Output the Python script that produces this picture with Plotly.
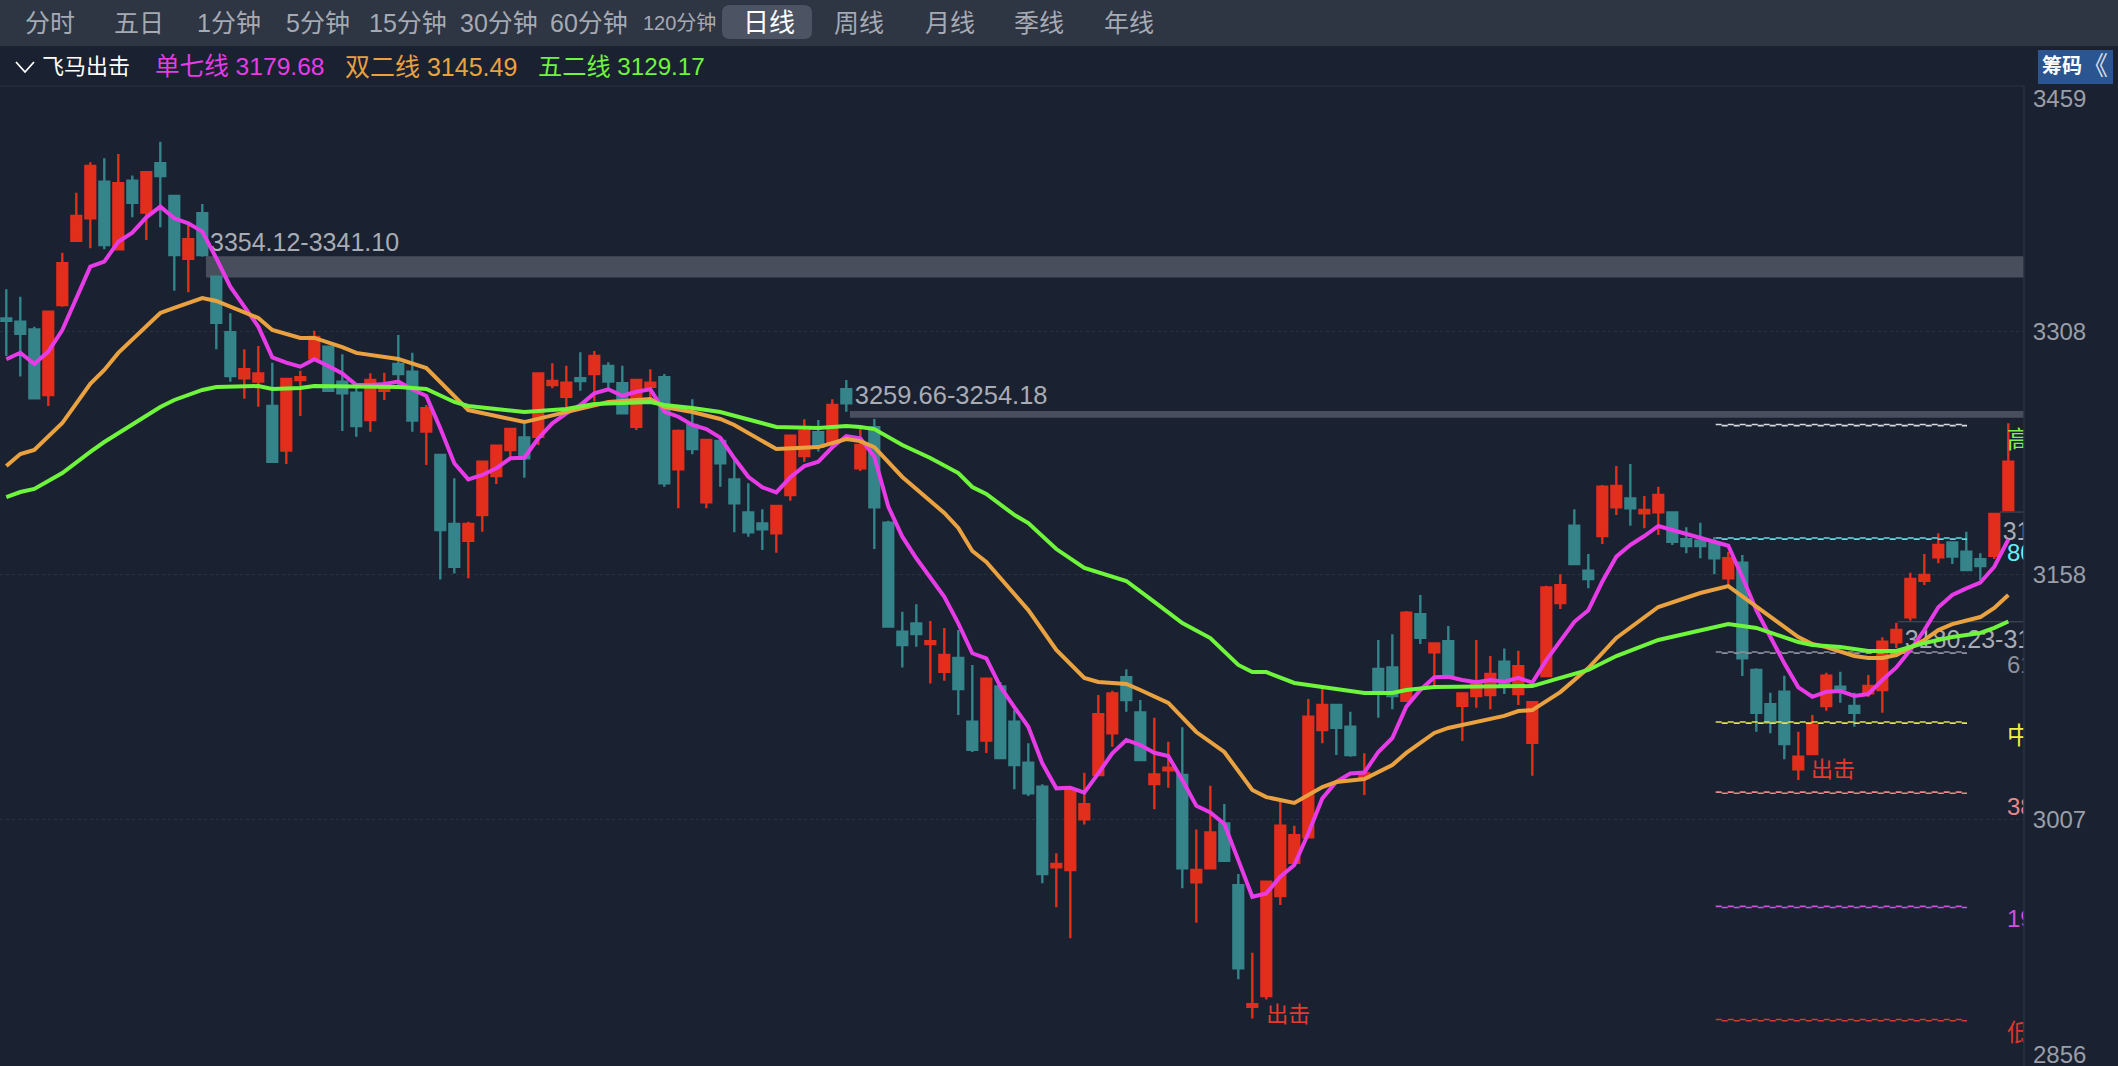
import plotly.graph_objects as go

# ---- data (index prices) ----
DIRECTION = ("TTTRRRRTRT" "RTTRTTTRRT" "RRRTTTRRTT" "RTTRRRRTRR" "RTRTTRRTRT" "RTTTTRRRTR" "TRTTTTRRTT"
             "RTTTTRRRRR" "TTRRTRRTTR" "RRRRRTTRTT" "RTRTRRRTRR" "RRTTRRTRRT" "TTTRTTTTRR" "RTTRRRRRRT" "TTRR")

HIGH = [3333.8,3329.2,3310.7,3320.4,3356.3,3393.3,3412,3414.5,3417.1,3403.8,3405.9,3424.7,3391.3,3375.4,3386.3,3342,3319,3296.8,3298.9,
3288.6,3278.5,3283.6,3308.3,3298.4,3293.8,3273,3282,3282.4,3305.6,3294.7,3262.5,3231.7,3217.4,3190.6,3228.2,3237.9,3248.5,3250.8,3282.2,3288.2,3286.7,3295,3295.8,3288.8,3286.7,3278.3,3284.5,
3281.6,3247.5,3266,3241,3242.2,3230.3,3214.3,3198.3,3200.3,3244,3253.7,3253.3,3266,3277.9,3250.2,3253.9,3191.2,3135.2,3139.8,3129.5,3125.2,3123.9,3102.4,3094.4,3091.9,3074.6,3054.1,3028.9,2986.4,3026.6,3036,3083.9,3086.5,3099.7,3080.8,3069.9,3055.1,3064,3001.1,3028,3016.7,2973.6,2925.1,2968.9,3018.2,3003.4,3081.4,3088,3077.7,3073.6,3048,
3117.8,3121.3,3135.6,3145.5,3115.7,3126.4,3084.9,3117.8,3107.9,3112.6,3111.2,3079.8,3151.2,3158.2,3198.3,3170.7,3213.2,3224.9,3226.2,3206.5,3212.2,3196.4,3187.2,3190,3181.2,3172.2,3170.1,3100.3,3085.3,3095.8,3061.3,3071.6,3097.6,3098.2,3085.3,3096.2,3119.4,3128.4,3159.2,3170.7,3183.5,3177.9,3184.5,3171.2,3195.4,3251.2]

BODY_TOP = [3315.9,3313.8,3309.1,3320,3349.8,3378.9,3409.7,3400.1,3399.1,3400.7,3405.9,3411.4,3391.3,3364.6,3380.6,3341.5,3307.3,3284.5,3282,
3261.9,3278.5,3279.6,3304.4,3298.4,3276.9,3270.1,3277.9,3273.6,3287.8,3283,3260.5,3231.7,3189.2,3189.2,3227.6,3237.4,3247.7,3242.6,3282,3277.3,3276.3,3279,3292.7,3286.5,3275.9,3277.9,3276.3,
3279.6,3246.5,3250.2,3241,3240.3,3216.7,3196.4,3189.6,3200.3,3243.6,3246.5,3245.7,3262.5,3272.2,3237.9,3248.8,3190,3122.9,3128,3117.1,3108.5,3106.7,3067.4,3094,3089.1,3067.4,3042.2,3027.4,2979.8,3025.4,3016.6,3072,3084.9,3094.8,3073.2,3035,3039.1,3034.6,2976.1,2999.3,3004.8,2966.8,2893.4,2968.9,3003.4,2997.6,3070.5,3077.7,3077.7,3064.4,3035.8,
3099.9,3100.9,3134.6,3133.6,3115.7,3117.1,3084.9,3091.3,3096.8,3104.4,3101.7,3079.4,3150.2,3151.6,3188.2,3160.4,3212.2,3212.6,3205,3197.8,3207.1,3196.4,3179.8,3178.9,3177.3,3168.1,3165.4,3099.3,3078.3,3085.9,3045.9,3065.4,3095.8,3089,3077.1,3089.4,3116.7,3123.9,3155.3,3157.8,3176.3,3177.9,3172.2,3167.5,3195.4,3227.6]

BODY_BOTTOM = [3314.4,3306.3,3266.6,3268.7,3324.1,3363.7,3377.5,3361.1,3358.4,3387.1,3381,3403.6,3354.9,3352.5,3354.9,3313.2,3280.4,3279,3276.9,
3227.6,3234.4,3277.9,3291.3,3271.3,3269.7,3249.6,3253.3,3271.3,3281.6,3252.9,3246.1,3185.5,3162.9,3178.9,3194.8,3218.8,3234.8,3229.7,3243,3274.8,3267.6,3277.3,3281.6,3276.9,3257.4,3249.1,3273.8,
3214.3,3222.9,3235.4,3202.6,3226.6,3202,3184.1,3186,3183.5,3207.1,3231.1,3236.8,3239.9,3263.6,3223.5,3199.5,3126,3114.7,3121.5,3115.3,3098.2,3087.6,3050.2,3055.8,3045.1,3040.8,3023.3,2973.6,2977.7,2976.1,3007.3,3034.6,3060.3,3080.8,3043.8,3029.1,3037.5,2977.1,2968.5,2977.1,2981.8,2915.5,2891.9,2898.5,2960.1,2980.6,2996.2,3062.3,3063.7,3046.9,3032.8,
3086.5,3083.3,3080.4,3119.2,3110.2,3096.2,3077.3,3083.3,3083.9,3090,3084.5,3054.5,3095.6,3140.6,3164.6,3155.3,3181.8,3199.5,3198.9,3195.8,3196.4,3178.3,3175.7,3175.7,3168.1,3155.8,3106.5,3073,3066.8,3053.7,3038.1,3047.5,3077.1,3087.4,3073,3084.9,3087,3116.3,3131.7,3154.3,3168.7,3169.1,3160.9,3163.3,3169.7,3197.8]

LOW = [3292.7,3280,3266.6,3261.9,3323.1,3363.7,3359,3358.4,3358.4,3378.1,3364.2,3372,3332.9,3331.9,3353.9,3296.8,3276.9,3266.4,3261.5,
3227.6,3226.2,3255.7,3290.2,3271.3,3246.5,3243,3246.1,3265.6,3274.8,3246.1,3225.6,3155.1,3158.8,3155.8,3184.5,3213.9,3228.6,3217.7,3237.9,3272.8,3259.4,3271.3,3264.6,3273,3257.4,3247.1,3263.6,
3212.2,3198.9,3232.2,3198.9,3212.2,3184.1,3181.4,3173.2,3171.5,3203.6,3227.6,3233.8,3239.9,3258.4,3221.9,3173.8,3126,3100.9,3113.6,3091,3092.7,3071.6,3048.8,3048.2,3044.6,3025.8,3021.7,2967.9,2953.1,2934,3004.2,3034.6,3052,3073.6,3043.4,3013.5,3026.8,2964.8,2943.6,2977.1,2981.2,2908.8,2884.7,2896.4,2954.5,2980.6,2996.2,3054.1,3046.9,3045.9,3022.3,
3069.9,3075.1,3080.4,3115.3,3087.4,3096.2,3055.5,3076,3075.1,3084.5,3077.7,3034.2,3095.6,3136.9,3164.6,3149.6,3176.9,3194.8,3188.2,3186.6,3182.4,3176.3,3171.2,3168.1,3158.2,3151.6,3095.6,3061.3,3060.3,3044.3,3031.5,3047.5,3074.2,3079.1,3064.4,3082.8,3073,3112.8,3129.6,3151.6,3165,3164.6,3160.9,3154.7,3167.7,3197.2]

# 单七线: one value per session
MA7 = [3290.7,3294.7,3287.8,3295.4,3308.7,3328.2,3347.7,3350.8,3363.1,3368.7,3378.1,3384.7,3377.5,3374.4,3369.3,3352.9,3335.4,3323.1,3310.8,
3291.9,3288.6,3286.1,3290.7,3286.5,3282,3274.8,3274.8,3275.5,3276.9,3272.2,3268.1,3248.2,3226.6,3216.7,3219.4,3223.5,3229.7,3230,3242,3251.2,3257.4,3262.5,3269.7,3272.2,3268.2,3270.7,3272.2,
3258.4,3255.3,3250.2,3247.7,3242.4,3229.7,3218.3,3211.8,3208.7,3218,3224.9,3227.6,3236.5,3243.4,3242,3230.7,3199.9,3181.4,3168.1,3155.8,3144.4,3128,3109.6,3106.5,3089.1,3076.5,3064.3,3041.8,3026.4,3026.8,3023.7,3035.6,3048,3056.2,3053.1,3048.3,3046.3,3031.5,3015.7,3011.6,3004.4,2982.2,2959.6,2961.7,2972,2979.2,2998.7,3020.2,3030.5,3035.6,3036.1,
3048.8,3057.4,3076.7,3087,3094.8,3095.1,3093.1,3091.7,3093.1,3092.1,3094.5,3091.5,3105.4,3116.7,3129,3136.1,3153.8,3169.1,3176.3,3181.8,3188,3185.5,3183,3181,3178.6,3175.8,3156.6,3136.2,3119.8,3103.4,3088.6,3082.8,3085.9,3086.3,3083.3,3084.5,3093.1,3100.9,3111.6,3123.9,3137.9,3145.5,3149.6,3153.1,3162.9,3179.68]

# 双二线 / 五二线: readings at the visible kinks of each line
MA22_IDX = [0,1,2,3,4,6,7,8,11,12,14,15,18,19,21,22,24,25,28,30,33,37,40,42,43,46,47,49,51,52,55,58,60,61,62,64,67,68,69,70,73,75,77,78,80,81,83,85,87,89,90,92,94,95,97,99,100,102,103,107,108,109,111,113,115,118,120,121,123,125,127,128,129,130,132,133,134,135,137,138,139,141,142,143]
MA22 = [3224.9,3232.3,3234.8,3242.8,3251.4,3275.5,3284.1,3294.6,3319.2,3322.3,3328.4,3326.6,3316.1,3308.7,3303.8,3303.8,3298.2,3294.6,3290.9,3285.3,3259.4,3252,3258.2,3262.5,3264.4,3266.2,3261.3,3258.2,3253.9,3250.2,3235.4,3236.6,3241.6,3240.3,3236.6,3218.2,3196,3186.8,3172.6,3165.8,3136.2,3111.6,3094.4,3091.9,3090.7,3087,3079,3061.1,3048.8,3025.4,3021,3017.4,3027.2,3030.3,3032.1,3040.8,3048.2,3060.5,3063.6,3071,3074,3074.6,3085.7,3100.5,3119,3138.1,3144.2,3146.7,3151,3138.1,3125.8,3119.6,3115.3,3113.4,3107.9,3106.7,3106.7,3108.5,3117.8,3123.9,3127.6,3131.9,3137.5,3145.49]

MA52_IDX = [0,1,2,3,4,6,7,11,12,14,15,18,19,21,22,28,30,32,33,37,40,42,46,47,49,51,55,58,60,61,62,64,66,68,69,70,72,73,75,77,80,82,84,86,88,89,90,92,94,97,99,100,102,109,111,113,115,118,123,125,128,129,131,133,135,137,139,141,142,143]
MA52 = [3205.8,3208.9,3210.8,3215.7,3220.6,3233.6,3239.7,3261.3,3265.6,3271.8,3273.6,3274.2,3272.4,3273,3274.2,3273.6,3272.4,3264.4,3261.9,3258.2,3260.1,3263.1,3264.4,3262.5,3260.7,3258.2,3249,3248.4,3249.6,3249,3247.7,3237.9,3229.9,3220.6,3212,3207.7,3194.8,3189.8,3173.8,3162.1,3154.1,3141.2,3128.2,3119,3102.4,3098,3098,3091.3,3088.8,3085.1,3085.1,3087,3088.8,3089.4,3094.4,3099.3,3107.9,3117.8,3127.6,3125.2,3116.5,3114.7,3113.4,3111,3111,3115.9,3119.6,3122.1,3125.2,3129.17]

FIB_LEVELS = [3250.5,3180.6,3110.4,3067.3,3024.1,2953.7,2884.0]
FIB_COLORS = ["#d8dade","#5fdde8","#8d909a","#e3e24a","#e58a8a","#d24fe0","#d63a35"]
FIB_TEXT = ["高点","80.9%","61.8%","中点","38.2%","19.1%","低点"]
FIB_TEXT_Y = [3239.5,3170,3100.9,3057.7,3013.7,2944.4,2874.2]
FIB_TEXT_COLORS = ["#7df04a","#66f0f5","#8d909a","#f2f23c","#e58a8a","#d24fe0","#e0352c"]

TOOLBAR = [("分时",49.5,25),("五日",139,25),("1分钟",229,25),("5分钟",318,25),("15分钟",408,25),("30分钟",499,25),("60分钟",589,25),("120分钟",679,20),("周线",859,25),("月线",950,25),("季线",1039,25),("年线",1129,25)]

BG, BAR_BG = "#1a2130", "#2e3543"
RED, TEAL = "#e12f1c", "#35848a"
FONT = "Liberation Sans, Noto Sans CJK SC, sans-serif"
W, H, PL_R, PL_T, PL_B = 2118, 1066, 2024, 86, 1065
XMIN, XMAX = -0.45, 144.12

def fx(p): return p / PL_R
def fy(p): return (PL_B - p) / (PL_B - PL_T)

N = len(HIGH)
X = list(range(N))
OPEN = [BODY_BOTTOM[i] if DIRECTION[i] == "R" else BODY_TOP[i] for i in X]
CLOSE = [BODY_TOP[i] if DIRECTION[i] == "R" else BODY_BOTTOM[i] for i in X]

fig = go.Figure()
fig.add_trace(go.Candlestick(x=X, open=OPEN, high=HIGH, low=LOW, close=CLOSE, whiskerwidth=0,
    increasing=dict(line=dict(color=RED, width=2.4), fillcolor=RED),
    decreasing=dict(line=dict(color=TEAL, width=2.4), fillcolor=TEAL), showlegend=False))

for lev, col in zip(FIB_LEVELS, FIB_COLORS):
    fig.add_trace(go.Scatter(x=[122.1, 140.05], y=[lev, lev], mode="lines",
        line=dict(color=col, width=1.6, dash="6px,6px"), showlegend=False, hoverinfo="skip"))
    fig.add_trace(go.Scatter(x=[122.1, 140.05], y=[lev - 0.7, lev - 0.7], mode="lines",
        line=dict(color=col, width=1.6, dash="0px,6px,6px,0px"), showlegend=False, hoverinfo="skip"))

def label(x, y, text, color, size):
    fig.add_trace(go.Scatter(x=[x], y=[y], mode="text", text=[text], textposition="middle right",
        textfont=dict(family=FONT, size=size, color=color), cliponaxis=True, showlegend=False, hoverinfo="skip"))

GREY = "#a8acb5"
label(14.55, 3361.1, "3354.12-3341.10", GREY, 25)
label(60.6, 3267, "3259.66-3254.18", GREY, 25.5)
label(135.6, 3116.6, "3180.23-3178.11", GREY, 25)
label(142.6, 3183.3, "3196.60", GREY, 25)
label(90.0, 2886, "出击", "#e63a30", 22)
label(128.9, 3037, "出击", "#e63a30", 22)
for t, yy, c in zip(FIB_TEXT, FIB_TEXT_Y, FIB_TEXT_COLORS):
    label(142.9, yy, t, c, 24)

fig.add_trace(go.Scatter(x=X, y=MA7, mode="lines", line=dict(color="#e83be8", width=4), name="单七线", showlegend=False, hoverinfo="skip"))
fig.add_trace(go.Scatter(x=MA22_IDX, y=MA22, mode="lines", line=dict(color="#e9a23f", width=4), name="双二线", showlegend=False, hoverinfo="skip"))
fig.add_trace(go.Scatter(x=MA52_IDX, y=MA52, mode="lines", line=dict(color="#6ef53c", width=4), name="五二线", showlegend=False, hoverinfo="skip"))

shapes = [
    dict(type="rect", xref="paper", yref="paper", x0=0, x1=fx(W), y0=fy(0), y1=fy(46), fillcolor=BAR_BG, line_width=0, layer="below"),
    dict(type="path", xref="paper", yref="paper", layer="below", fillcolor="#4c5362", line_width=0,
         path=f"M{fx(730)},{fy(5)} L{fx(804)},{fy(5)} Q{fx(812)},{fy(5)} {fx(812)},{fy(13)} L{fx(812)},{fy(31)} Q{fx(812)},{fy(39)} {fx(804)},{fy(39)} L{fx(730)},{fy(39)} Q{fx(722)},{fy(39)} {fx(722)},{fy(31)} L{fx(722)},{fy(13)} Q{fx(722)},{fy(5)} {fx(730)},{fy(5)} Z"),
    dict(type="line", xref="paper", yref="paper", x0=0, x1=fx(PL_R), y0=fy(86), y1=fy(86), line=dict(color="#262d3b", width=1.5)),
    dict(type="line", xref="paper", yref="paper", x0=fx(PL_R), x1=fx(PL_R), y0=fy(86), y1=fy(1066), line=dict(color="#2a3140", width=1.5)),
    dict(type="rect", xref="paper", yref="paper", x0=fx(2038), x1=fx(2113), y0=fy(50), y1=fy(84), fillcolor="#2a5590", line_width=0),
    dict(type="path", xref="paper", yref="paper", line=dict(color="white", width=1.8),
         path=f"M{fx(16)},{fy(62)} L{fx(25)},{fy(72)} L{fx(34)},{fy(62)}"),
    dict(type="rect", xref="x", yref="y", x0=14.26, x1=XMAX, y0=3341.10, y1=3354.12, fillcolor="#484e5c", line_width=0, layer="below"),
    dict(type="rect", xref="x", yref="y", x0=60.26, x1=XMAX, y0=3254.6, y1=3258.8, fillcolor="#484e5c", line_width=0, layer="below"),
    dict(type="line", xref="x", yref="y", x0=135.1, x1=XMAX, y0=3129, y1=3129, line=dict(color="#4a4f5c", width=1), layer="below"),
    dict(type="line", xref="x", yref="y", x0=142.4, x1=XMAX, y0=3196.6, y1=3196.6, line=dict(color="#4a4f5c", width=1), layer="below"),
]

ann = []
def text(x, y, t, color, size, anchor="left"):
    ann.append(dict(xref="paper", yref="paper", x=fx(x), y=fy(y), text=t, showarrow=False, xanchor=anchor, yanchor="middle",
                    xshift=0, font=dict(family=FONT, size=size, color=color), borderpad=0))

for t, x, s in TOOLBAR:
    text(x, 23, t, "#a6aab3", s, "center")
text(769, 23, "日线", "#ffffff", 26, "center")
text(41, 67, "飞马出击", "#ffffff", 22)
text(154, 67, "单七线 3179.68", "#e83be8", 24.6)
text(344, 67, "双二线 3145.49", "#e9a23f", 25)
text(537, 67, "五二线 3129.17", "#6ef53c", 24.2)
text(2041, 66, "<b>筹码</b>", "#ffffff", 20)
text(2081, 66, "《", "#d5dbe6", 26)
text(2032, 99, "3459", "#9a9ea8", 24)
text(2032, 1054, "2856", "#9a9ea8", 24)

fig.update_layout(
    width=W, height=H, autosize=False, showlegend=False,
    margin=dict(l=0, r=W - PL_R, t=PL_T, b=H - PL_B, pad=0),
    paper_bgcolor=BG, plot_bgcolor=BG, shapes=shapes, annotations=ann, boxgap=0.3, boxgroupgap=0,
    xaxis=dict(range=[XMIN, XMAX], visible=False, rangeslider=dict(visible=False), fixedrange=True),
    yaxis=dict(range=[2856, 3459], side="right", tickvals=[3007, 3158, 3308], ticktext=["3007", "3158", "3308"],
               showgrid=True, gridcolor="#2b3240", griddash="dot", gridwidth=1, zeroline=False, showline=False,
               ticks="outside", ticklen=3, tickcolor="rgba(0,0,0,0)",
               tickfont=dict(family=FONT, size=24, color="#9a9ea8"), fixedrange=True),
)
fig.write_html("out.html", config=dict(displayModeBar=False),
               post_script="document.body.style.margin='0';document.documentElement.style.overflow='hidden';")
